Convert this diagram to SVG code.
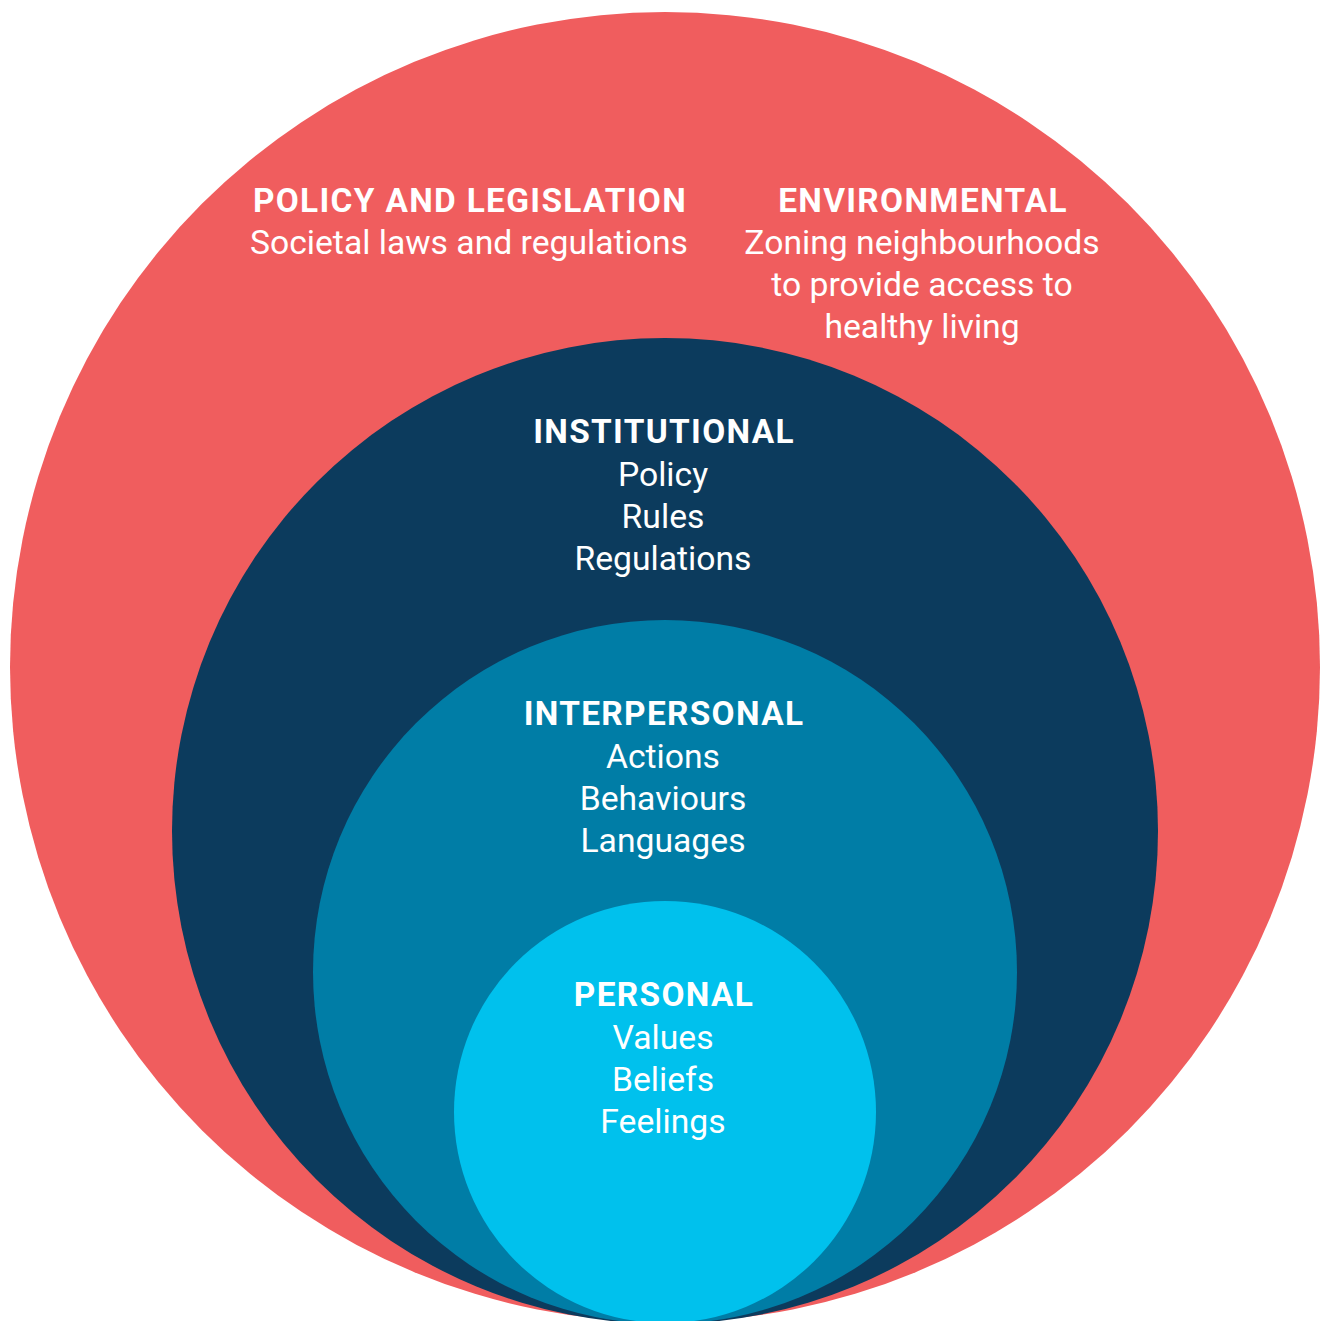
<svg xmlns="http://www.w3.org/2000/svg" width="1321" height="1321" viewBox="0 0 1321 1321">
<style>
text{font-family:Roboto,"Liberation Sans",sans-serif;fill:#fff;text-anchor:middle}
.t{font-weight:700;font-size:33.4px;letter-spacing:1.33px}
.b{font-size:33.7px}
</style>
<rect width="1321" height="1321" fill="#fff"/>
<g id="policy-environmental">
<circle cx="665" cy="667" r="655" fill="#F05D5E"/>
<text class="t" x="470" y="212">POLICY AND LEGISLATION</text>
<text class="b" x="469" y="254">Societal laws and regulations</text>
<text class="t" x="923" y="212">ENVIRONMENTAL</text>
<text class="b" x="922" y="254">Zoning neighbourhoods</text>
<text class="b" x="922" y="296">to provide access to</text>
<text class="b" x="922" y="338">healthy living</text>
</g>
<g id="institutional">
<circle cx="665" cy="831" r="493" fill="#0C3B5D"/>
<text class="t" x="664" y="443">INSTITUTIONAL</text>
<text class="b" x="663" y="486">Policy</text>
<text class="b" x="663" y="528">Rules</text>
<text class="b" x="663" y="570">Regulations</text>
</g>
<g id="interpersonal">
<circle cx="665" cy="972" r="352" fill="#007DA6"/>
<text class="t" x="664" y="725">INTERPERSONAL</text>
<text class="b" x="663" y="768">Actions</text>
<text class="b" x="663" y="810">Behaviours</text>
<text class="b" x="663" y="852">Languages</text>
</g>
<g id="personal">
<circle cx="665" cy="1112" r="211" fill="#00C1ED"/>
<text class="t" x="664" y="1006">PERSONAL</text>
<text class="b" x="663" y="1049">Values</text>
<text class="b" x="663" y="1091">Beliefs</text>
<text class="b" x="663" y="1133">Feelings</text>
</g>
<g id="connectors"/>
</svg>
